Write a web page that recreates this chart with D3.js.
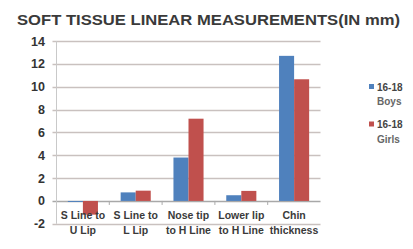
<!DOCTYPE html>
<html>
<head>
<meta charset="utf-8">
<script src="https://cdn.jsdelivr.net/npm/d3@7"></script>
<style>
    body { margin: 0; background: #fff; }
    svg { display: block; font-family: "Liberation Sans", Arial, sans-serif; }
</style>
</head>
<body>
<svg id="chart" width="413" height="249"></svg>
<script>
(function (d3) {
    'use strict';

    var categories = [['S Line to', 'U Lip'], ['S Line to', 'L Lip'], ['Nose tip', 'to H Line'], ['Lower lip', 'to H Line'], ['Chin', 'thickness']];
    var seriesNames = [['16-18', 'Boys'], ['16-18', 'Girls']];
    var boys  = [-0.05, 0.75, 3.8, 0.5, 12.7];
    var girls = [-1.2, 0.9, 7.2, 0.88, 10.65];
    var yTicks = [-2, 0, 2, 4, 6, 8, 10, 12, 14];
    var colors = ['#4f81bd', '#c0504d'];

    var svg = d3.select('#chart'),
        left = 56.5, right = 320.5, top = 41, bottom = 223.8;

    var x = d3.scaleBand().domain(d3.range(categories.length)).range([left, right]).paddingInner(0.43).paddingOuter(0.215),
        x1 = d3.scaleBand().domain([0, 1]).range([0, x.bandwidth()]),
        y = d3.scaleLinear().domain([-2, 14]).range([bottom, top]);

    // title
    svg.append('text')
        .attr('x', 17).attr('y', 25)
        .attr('textLength', 383).attr('lengthAdjust', 'spacingAndGlyphs')
        .style('font-size', '15px').style('font-weight', 'bold').style('fill', '#3a3a3a')
        .text('SOFT TISSUE LINEAR MEASUREMENTS(IN mm)');

    // gridlines
    svg.append('g').selectAll('line').data(yTicks).enter().append('line')
        .attr('x1', left - 4).attr('x2', right)
        .attr('y1', function (d) { return Math.round(y(d)) + 0.5; })
        .attr('y2', function (d) { return Math.round(y(d)) + 0.5; })
        .attr('stroke', function (d) { return d === 0 ? '#a8a8a8' : '#c9c1bf'; })
        .attr('stroke-width', 1.3);

    svg.append('line')
        .attr('x1', left).attr('x2', left).attr('y1', top).attr('y2', bottom)
        .attr('stroke', '#c9c9c9');

    // y labels
    svg.append('g').selectAll('text').data(yTicks).enter().append('text')
        .attr('x', 45).attr('y', function (d) { return y(d) + 4.5; })
        .attr('text-anchor', 'end')
        .style('font-size', '12.5px').style('font-weight', 'bold').style('fill', '#333')
        .text(String);

    // bars
    var data = [boys, girls];
    var groups = svg.append('g').selectAll('g').data(data).enter().append('g')
        .attr('fill', function (d, i) { return colors[i]; });
    groups.each(function (vals, si) {
        d3.select(this).selectAll('rect').data(vals).enter().append('rect')
            .attr('x', function (d, i) { return x(i) + x1(si); })
            .attr('width', x1.bandwidth())
            .attr('y', function (d) { return y(Math.max(0, d)); })
            .attr('height', function (d) { return Math.max(1, Math.abs(y(d) - y(0))); });
    });

    // category ticks on zero axis
    svg.append('g').selectAll('line').data(d3.range(categories.length - 1)).enter().append('line')
        .attr('x1', function (d) { return x(d + 1) - x.step() * x.paddingInner() / 2; })
        .attr('x2', function (d) { return x(d + 1) - x.step() * x.paddingInner() / 2; })
        .attr('y1', y(0)).attr('y2', y(0) + 4)
        .attr('stroke', '#aaa');

    // category labels
    var cat = svg.append('g').selectAll('text').data(categories).enter().append('text')
        .attr('text-anchor', 'middle')
        .style('font-size', '10.5px').style('font-weight', 'bold').style('fill', '#3a3a3a');
    cat.append('tspan')
        .attr('x', function (d, i) { return x(i) + x.bandwidth() / 2; })
        .attr('y', 219)
        .text(function (d) { return d[0]; });
    cat.append('tspan')
        .attr('x', function (d, i) { return x(i) + x.bandwidth() / 2; })
        .attr('y', 234)
        .text(function (d) { return d[1]; });

    // legend
    var legend = svg.append('g').selectAll('g').data(seriesNames).enter().append('g')
        .attr('transform', function (d, i) { return 'translate(369,' + (87 + i * 37.5) + ')'; });
    legend.append('rect')
        .attr('x', 0).attr('y', -3).attr('width', 5).attr('height', 5)
        .attr('fill', function (d, i) { return colors[i]; });
    legend.append('text')
        .attr('x', 8).attr('y', 3.5)
        .style('font-size', '10px').style('font-weight', 'bold').style('fill', '#444')
        .text(function (d) { return d[0]; });
    legend.append('text')
        .attr('x', 8).attr('y', 18)
        .style('font-size', '10px').style('font-weight', 'bold').style('fill', '#666')
        .text(function (d) { return d[1]; });
}(window.d3));
</script>
</body>
</html>
